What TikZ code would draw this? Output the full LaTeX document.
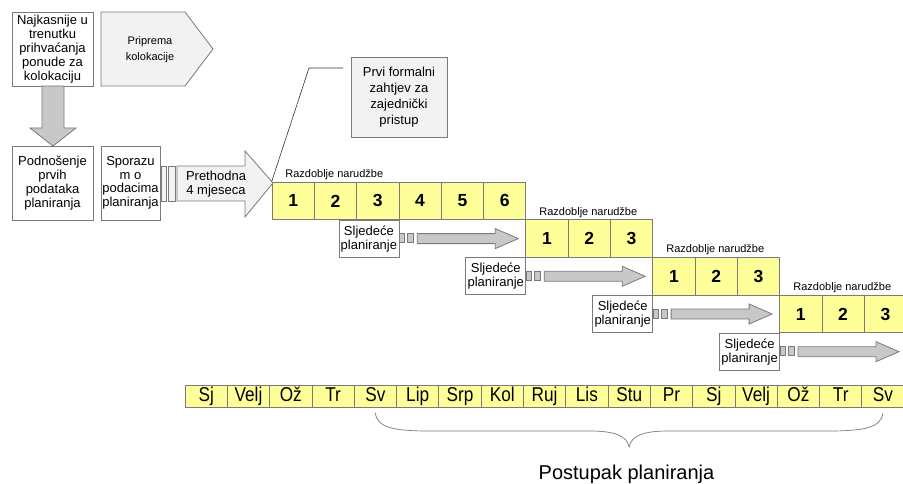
\documentclass[tikz,border=0pt]{standalone}
\usepackage{fontspec}
\setmainfont{Liberation Sans}
\newfontfamily\narrowfont[FakeStretch=0.86]{Liberation Sans}
\definecolor{edge}{HTML}{7A7A7A}
\definecolor{pale}{HTML}{F2F2F2}
\definecolor{shade}{HTML}{C8C8C8}
\definecolor{cell}{HTML}{FFFF99}
\tikzset{
  box/.style={draw=edge, fill=white, align=center, inner sep=0pt, font=\fontsize{13}{14}\selectfont},
  period/.style={draw=edge, fill=cell, minimum width=42.3pt, minimum height=37.7pt, inner sep=0pt, font=\fontsize{17.5}{17.5}\selectfont\bfseries},
  month/.style={draw=edge, fill=cell, minimum width=42.3pt, minimum height=22pt, inner sep=0pt, text height=14pt, text depth=4pt, font=\narrowfont\fontsize{20}{20}\selectfont},
  tag/.style={anchor=south west, inner sep=1pt, font=\fontsize{11}{11}\selectfont},
  block/.style={draw=edge, fill=pale},
  fat/.style={draw=edge, fill=shade},
}
\begin{document}
\begin{tikzpicture}[x=1pt, y=-1pt, line width=0.8pt]
  \useasboundingbox (0,0) rectangle (903,484);
  % preparation
  \node[box, minimum width=81pt, minimum height=74pt] (najk) at (52.5,49)
    {Najkasnije u\\trenutku\\prihvaćanja\\ponude za\\kolokaciju};
  \draw[block] (101,12) -- (185,12) -- (213,49) -- (185,86) -- (101,86) -- cycle;
  \node[align=center, font=\fontsize{11}{16}\selectfont] (pripr) at (150,50) {Priprema\\kolokacije};
  \draw[fat] (42,86) -- (64,86) -- (64,128) -- (76,128) -- (53,146) -- (30,128) -- (42,128) -- cycle;
  \node[box, minimum width=81pt, minimum height=74pt] (podn) at (52.5,183)
    {Podnošenje\\prvih\\podataka\\planiranja};
  \node[box, minimum width=59pt, minimum height=74pt, font=\fontsize{13}{13.5}\selectfont] (spor) at (130.5,183)
    {Sporazu\\m o\\podacima\\planiranja};
  \draw[block] (161,166) rectangle (166,201) (168,166) rectangle (175,201);
  \draw[block] (177,166) -- (245,166) -- (245,151) -- (273,183) -- (245,217) -- (245,201) -- (177,201) -- cycle;
  \node[align=center, font=\fontsize{13}{14}\selectfont] (prev) at (216,184) {Prethodna\\4 mjeseca};
  % order periods
  \draw
    (293.2,200.9) node[period] (c1){1}
    (335.5,200.9) node[period] (c2){2}
    (377.8,200.9) node[period] (c3){3}
    (420.1,200.9) node[period] (c4){4}
    (462.4,200.9) node[period] (c5){5}
    (504.7,200.9) node[period] (c6){6}
    (547.0,238.6) node[period] (d1){1}
    (589.3,238.6) node[period] (d2){2}
    (631.6,238.6) node[period] (d3){3}
    (673.9,276.3) node[period] (e1){1}
    (716.2,276.3) node[period] (e2){2}
    (758.5,276.3) node[period] (e3){3}
    (800.8,314.0) node[period] (f1){1}
    (843.1,314.0) node[period] (f2){2}
    (885.4,314.0) node[period] (f3){3};
  \node[tag] (tag1) at (284,181) {Razdoblje narudžbe};
  \node[tag] (tag2) at (538,218.7) {Razdoblje narudžbe};
  \node[tag] (tag3) at (665,256.4) {Razdoblje narudžbe};
  \node[tag] (tag4) at (792,294.1) {Razdoblje narudžbe};
  % callout
  \node[box, fill=pale, minimum width=96pt, minimum height=80pt, font=\fontsize{13}{16}\selectfont] (note) at (399,97)
    {Prvi formalni\\zahtjev za\\zajednički\\pristup};
  \coordinate (tail) at (343,68);
  \draw[black!80, line width=0.6pt] (tail) -- (309,68) -- (c1.north west);
  % next planning
  \node[box, minimum width=60pt, minimum height=37pt] (s1) at (368.9,238.6) {Sljedeće\\planiranje};
  \node[box, minimum width=60pt, minimum height=37pt] (s2) at (495.8,276.3) {Sljedeće\\planiranje};
  \node[box, minimum width=60pt, minimum height=37pt] (s3) at (622.7,314.0) {Sljedeće\\planiranje};
  \node[box, minimum width=60pt, minimum height=37pt] (s4) at (749.6,351.7) {Sljedeće\\planiranje};
  \begin{scope}[shift={(s1.east)}]
    \draw[fat] (0,-5) rectangle (5,4) (8,-5) rectangle (14,4);
    \draw[fat] (18,-5) -- (96,-5) -- (96,-10) -- (119,0) -- (96,10) -- (96,5) -- (18,5) -- cycle;
  \end{scope}
  \begin{scope}[shift={(s2.east)}]
    \draw[fat] (0,-5) rectangle (5,4) (8,-5) rectangle (14,4);
    \draw[fat] (18,-5) -- (96,-5) -- (96,-10) -- (119,0) -- (96,10) -- (96,5) -- (18,5) -- cycle;
  \end{scope}
  \begin{scope}[shift={(s3.east)}]
    \draw[fat] (0,-5) rectangle (5,4) (8,-5) rectangle (14,4);
    \draw[fat] (18,-5) -- (96,-5) -- (96,-10) -- (119,0) -- (96,10) -- (96,5) -- (18,5) -- cycle;
  \end{scope}
  \begin{scope}[shift={(s4.east)}]
    \draw[fat] (0,-5) rectangle (5,4) (8,-5) rectangle (14,4);
    \draw[fat] (18,-5) -- (96,-5) -- (96,-10) -- (119,0) -- (96,10) -- (96,5) -- (18,5) -- cycle;
  \end{scope}
  % months
  \draw
    (206.2,396) node[month] (m1){Sj}
    (248.5,396) node[month] (m2){Velj}
    (290.8,396) node[month] (m3){Ož}
    (333.1,396) node[month] (m4){Tr}
    (375.4,396) node[month] (m5){Sv}
    (417.7,396) node[month] (m6){Lip}
    (460.0,396) node[month] (m7){Srp}
    (502.3,396) node[month] (m8){Kol}
    (544.6,396) node[month] (m9){Ruj}
    (586.9,396) node[month] (m10){Lis}
    (629.2,396) node[month] (m11){Stu}
    (671.5,396) node[month] (m12){Pr}
    (713.8,396) node[month] (m13){Sj}
    (756.1,396) node[month] (m14){Velj}
    (798.4,396) node[month] (m15){Ož}
    (840.7,396) node[month] (m16){Tr}
    (883.0,396) node[month] (m17){Sv};
  % brace
  \draw[edge, line width=0.7pt] (375.4,413) .. controls (377,428) and (395,431) .. (430,431) -- (590,431)
    .. controls (615,431) and (627,436) .. (629.2,447)
    .. controls (631,436) and (643,431) .. (668,431) -- (828,431)
    .. controls (863,431) and (881,428) .. (883,413);
  \node[anchor=base, inner sep=0pt, font=\fontsize{20}{20}\selectfont] (post) at (626.5,479) {Postupak planiranja};
\end{tikzpicture}
\end{document}
